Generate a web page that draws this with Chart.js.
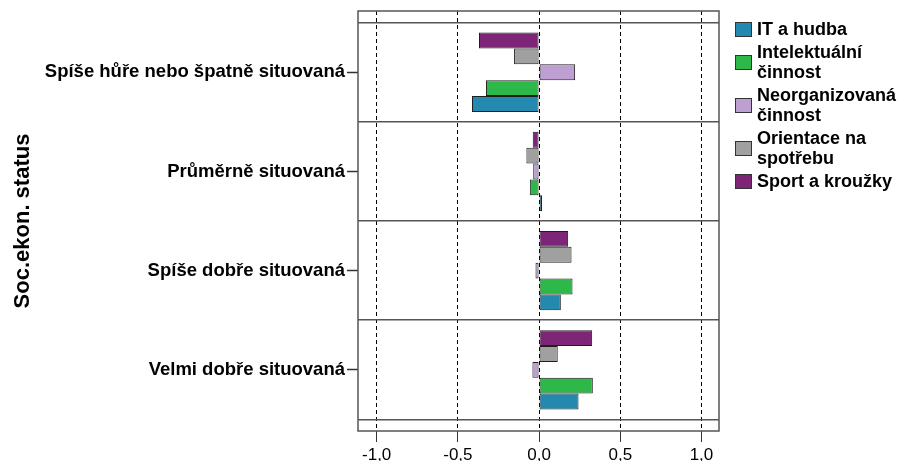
<!DOCTYPE html>
<html>
<head>
<meta charset="utf-8">
<script src="https://cdn.jsdelivr.net/npm/chart.js@4.4.1/dist/chart.umd.min.js"></script>
<style>
  html, body { margin: 0; padding: 0; background: #ffffff; }
  #wrap { position: relative; width: 901px; height: 461px; overflow: hidden; }
  #c { position: absolute; left: 0; top: 0; }
  #legend { position: absolute; left: 735px; top: 19px; font: bold 18px "Liberation Sans", Arial, sans-serif; color: #000; }
  .item { display: flex; align-items: center; margin-bottom: 3px; line-height: 20px; }
  .box { width: 15px; height: 13px; border: 1px solid #333; margin-right: 5px; flex: none; }
  .txt { width: 146px; white-space: normal; }
</style>
</head>
<body>
<div id="wrap">
  <canvas id="c" width="901" height="461"></canvas>
  <div id="legend"></div>
</div>
<script>
// ---- data ----
const categories = ['Spíše hůře nebo špatně situovaná', 'Průměrně situovaná', 'Spíše dobře situovaná', 'Velmi dobře situovaná'];
const seriesNames = ['IT a hudba', 'Intelektuální činnost', 'Neorganizovaná činnost', 'Orientace na spotřebu', 'Sport a kroužky'];
const itHudba = [-0.413, 0.018, 0.134, 0.243];
const intelektualniCinnost = [-0.327, -0.057, 0.206, 0.331];
const neorganizovanaCinnost = [0.222, -0.036, -0.022, -0.041];
const orientaceNaSpotrebu = [-0.154, -0.078, 0.200, 0.115];
const sportAKrouzky = [-0.370, -0.039, 0.179, 0.327];
const xTickValues = [-1.0, -0.5, 0.0, 0.5, 1.0];
const axisTitle = 'Soc.ekon. status';

// ---- styles ----
const seriesValues = [itHudba, intelektualniCinnost, neorganizovanaCinnost, orientaceNaSpotrebu, sportAKrouzky];
const seriesColors = ['#2389ae', '#2eb84a', '#bd9fd1', '#a0a0a0', '#7d2577'];
const FONT = '"Liberation Sans", Arial, sans-serif';
const Y_MIN = -0.618, Y_MAX = 3.617;

const datasets = seriesNames.map((name, s) => ({
  label: name,
  data: seriesValues[s].map((v, i) => ({ x: v, y: i })),
  backgroundColor: seriesColors[s],
  borderColor: '#1e1e1e',
  borderWidth: 1,
  borderSkipped: false,
  categoryPercentage: 0.8,
  barPercentage: 1.0,
  xAxisID: 'x',
  yAxisID: 'y'
})).reverse();

const framePlugin = {
  id: 'frame',
  afterDatasetsDraw(chart) {
    const { ctx, chartArea: a } = chart;
    ctx.save();
    ctx.strokeStyle = '#555';
    ctx.lineWidth = 1.5;
    ctx.strokeRect(a.left, a.top, a.right - a.left, a.bottom - a.top);
    ctx.restore();
  }
};

new Chart(document.getElementById('c'), {
  type: 'bar',
  data: { datasets },
  plugins: [framePlugin],
  options: {
    indexAxis: 'y',
    responsive: false,
    animation: false,
    layout: { padding: { top: 11, right: 182, bottom: 0, left: 0 } },
    plugins: { legend: { display: false }, tooltip: { enabled: false } },
    scales: {
      x: {
        type: 'linear', position: 'bottom', min: -1.115, max: 1.108, bounds: 'data', offset: false,
        afterBuildTicks: s => { s.ticks = xTickValues.map(v => ({ value: v })); },
        afterFit: s => { s.height = 30; s.paddingLeft = 0; s.paddingRight = 0; },
        grid: { color: '#000', lineWidth: 1, offset: false, drawTicks: true, tickLength: 11, tickColor: '#333', tickWidth: 1, tickBorderDash: [20, 0] },
        border: { display: false, dash: [4, 3] },
        ticks: { padding: 3, color: '#000', font: { family: FONT, size: 17 }, autoSkip: false, maxRotation: 0,
                 callback: v => Number(v).toFixed(1).replace('.', ',') }
      },
      y: {
        type: 'linear', position: 'left', reverse: true, min: Y_MIN, max: Y_MAX, bounds: 'data', offset: false,
        afterBuildTicks: s => { s.ticks = categories.map((_, i) => ({ value: i - 0.5 })).concat([{ value: categories.length - 0.5 }]); },
        afterFit: s => { s.width = 0; s.paddingTop = 0; s.paddingBottom = 0; },
        grid: { color: '#555', lineWidth: 1.5, drawTicks: false, offset: false },
        border: { display: false },
        ticks: { display: false }
      },
      y2: {
        type: 'linear', position: 'left', reverse: true, min: Y_MIN, max: Y_MAX, bounds: 'data', offset: false,
        afterBuildTicks: s => { s.ticks = categories.map((_, i) => ({ value: i })); },
        afterFit: s => { s.width = 358; s.paddingTop = 0; s.paddingBottom = 0; },
        grid: { drawOnChartArea: false, drawTicks: true, offset: false, tickLength: 11, tickColor: '#333', tickWidth: 1.5 },
        border: { display: false },
        ticks: { padding: 2, color: '#000', font: { family: FONT, size: 18.5, weight: 'bold' },
                 callback: v => categories[Math.round(v)] },
        title: { display: true, text: axisTitle, color: '#000',
                 font: { family: FONT, size: 22, weight: 'bold', lineHeight: 1.2 }, padding: { top: 10, bottom: 0 } }
      }
    }
  }
});

// legend (series order as in the reference)
const legendEl = document.getElementById('legend');
seriesNames.forEach((name, s) => {
  const item = document.createElement('div');
  item.className = 'item';
  const box = document.createElement('div');
  box.className = 'box';
  box.style.background = seriesColors[s];
  const txt = document.createElement('div');
  txt.className = 'txt';
  txt.textContent = name;
  item.appendChild(box);
  item.appendChild(txt);
  legendEl.appendChild(item);
});
</script>
</body>
</html>
